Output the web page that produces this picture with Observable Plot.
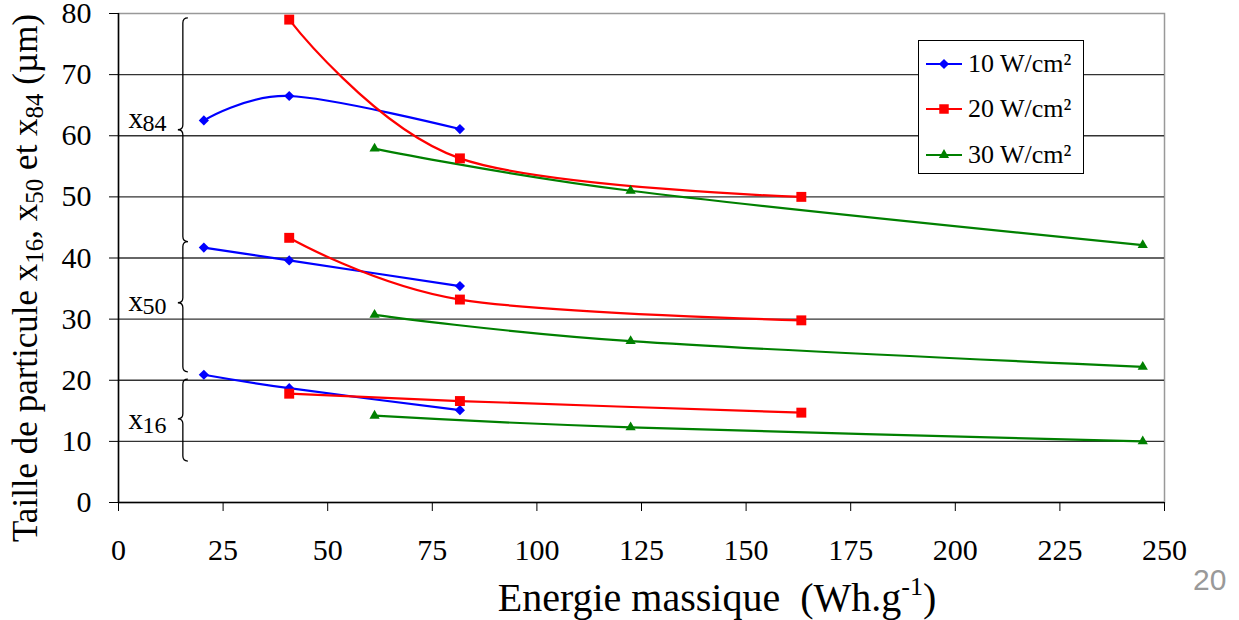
<!DOCTYPE html>
<html><head><meta charset="utf-8">
<script src="https://cdn.jsdelivr.net/npm/d3@7"></script>
<script src="https://cdn.jsdelivr.net/npm/@observablehq/plot@0.6"></script>
<style>
body{margin:0;background:#fff;}
#wrap{position:relative;width:1239px;height:620px;overflow:hidden;}
.legend{position:absolute;left:918px;top:40px;width:164px;height:132px;border:1px solid #000;background:#fff;font-family:"Liberation Serif","Times New Roman",serif;font-size:26px;color:#000;}
.item{position:absolute;left:7px;height:30px;display:flex;align-items:center;white-space:nowrap;}
.item svg{margin-right:6px;}
.pagenum{position:absolute;left:1193px;top:563px;font-family:"Liberation Sans",Arial,sans-serif;font-size:30px;color:#999;}
</style></head><body><div id="wrap"></div>
<script>
// ---- data ----
const series = ["10 W/cm²", "20 W/cm²", "30 W/cm²"];
const colors = ["#0000ff", "#ff0000", "#008000"];
const symbols = ["diamond2", "square", "triangle"];
const grandeurs = ["x84", "x50", "x16"];

const energie10 = [20.4, 40.8, 81.6];
const x84_10 = [62.5, 66.5, 61.1];
const x50_10 = [41.7, 39.6, 35.4];
const x16_10 = [20.9, 18.7, 15.1];

const energie20 = [40.8, 81.6, 163.2];
const x84_20 = [79.0, 56.3, 50.0];
const x50_20 = [43.3, 33.2, 29.8];
const x16_20 = [17.8, 16.6, 14.7];

const energie30 = [61.2, 122.4, 244.8];
const x84_30 = [57.9, 51.0, 42.1];
const x50_30 = [30.7, 26.4, 22.2];
const x16_30 = [14.2, 12.3, 10.0];

const xTicks = [0, 25, 50, 75, 100, 125, 150, 175, 200, 225, 250];
const yTicks = [0, 10, 20, 30, 40, 50, 60, 70, 80];

// brace annotations (data units)
const braceX = 15.5;
const braceTop = [79.2, 42.6, 20.1];
const braceMid = [60.9, 32.6, 13.6];
const braceBottom = [42.6, 21.3, 6.7];
const labelX = 2.4;
const labelY = [62.8, 32.9, 13.5];
const labelSub = ["84", "50", "16"];

// ---- build rows ----
const table = [
  [energie10, [x84_10, x50_10, x16_10]],
  [energie20, [x84_20, x50_20, x16_20]],
  [energie30, [x84_30, x50_30, x16_30]]
];
const rows = [];
table.forEach(([en, vals], si) => {
  vals.forEach((v, gi) => {
    en.forEach((e, i) => rows.push({serie: series[si], g: grandeurs[gi], key: series[si] + grandeurs[gi], e, v: v[i]}));
  });
});
const labels = grandeurs.map((g, i) => ({y: labelY[i], sub: labelSub[i]}));

const serif = "Liberation Serif, Times New Roman, serif";

const chart = Plot.plot({
  width: 1239, height: 620,
  marginTop: 13, marginRight: 75, marginBottom: 118, marginLeft: 118,
  style: {fontFamily: serif, fontSize: "30px", color: "#000", background: "transparent"},
  x: {domain: [0, 250]},
  y: {domain: [0, 80]},
  color: {domain: series, range: colors},
  marks: [
    Plot.frame({stroke: "#999", strokeWidth: 1.5}),
    Plot.ruleY(yTicks.filter(d => d > 0 && d < 80), {stroke: "#333", strokeWidth: 1.3}),
    Plot.ruleY([0], {stroke: "#000", strokeWidth: 1.5}),
    Plot.ruleX([0], {stroke: "#000", strokeWidth: 1.5}),
    Plot.axisX({ticks: xTicks, tickSize: 9, tickPadding: 27, label: null, tickFormat: d => String(d)}),
    Plot.axisY({ticks: yTicks, tickSize: 9, tickPadding: 18, label: null, tickFormat: d => String(d)}),
    Plot.text(labels, {x: labelX, y: "y", text: () => "x", textAnchor: "start", fontSize: 29}),
    Plot.text(labels, {x: labelX, y: "y", text: "sub", textAnchor: "start", fontSize: 24, dx: 14, dy: 5}),
    Plot.line(rows, {x: "e", y: "v", z: "key", stroke: "serie", curve: "cardinal", strokeWidth: 2.2}),
    ...series.map((s, i) => Plot.dot(rows.filter(d => d.serie === s), {
      x: "e", y: "v", symbol: () => symbols[i], fill: colors[i], stroke: "none",
      r: [4.6, 5.6, 3.8][i]
    }))
  ]
});

const wrap = document.getElementById("wrap");
wrap.appendChild(chart);

// braces drawn with the plot's own scales
const sx = chart.scale("x"), sy = chart.scale("y");
const fx = d3.scaleLinear(sx.domain, sx.range);
const fy = d3.scaleLinear(sy.domain, sy.range);
const svg = d3.select(chart);
const w = 5;
braceTop.forEach((t, i) => {
  const x = fx(braceX), y1 = fy(t), ym = fy(braceMid[i]), y2 = fy(braceBottom[i]);
  const p = `M${x + w},${y1} Q${x},${y1} ${x},${y1 + w} L${x},${ym - w} Q${x},${ym} ${x - w},${ym} Q${x},${ym} ${x},${ym + w} L${x},${y2 - w} Q${x},${y2} ${x + w},${y2}`;
  svg.append("path").attr("d", p).attr("fill", "none").attr("stroke", "#000").attr("stroke-width", 1.3);
});

// axis titles
const yl = svg.append("text")
  .attr("transform", "translate(37,278) rotate(-90)")
  .attr("text-anchor", "middle")
  .style("font-family", serif).attr("font-size", 35).attr("fill", "#000");
const parts = [["Taille de particule x", 0], ["16", 1], [", x", 0], ["50", 1], [" et x", 0], ["84", 1], [" (µm)", 0]];
let prevSub = false;
parts.forEach(([t, sub]) => {
  const ts = yl.append("tspan").text(t);
  if (sub) ts.attr("font-size", 25).attr("dy", 6);
  else if (prevSub) ts.attr("dy", -6);
  prevSub = !!sub;
});

const xl = svg.append("text")
  .attr("x", 717).attr("y", 611)
  .attr("text-anchor", "middle")
  .style("font-family", serif).attr("font-size", 40).attr("fill", "#000")
  .attr("xml:space", "preserve");
xl.append("tspan").text("Energie massique  (Wh.g");
xl.append("tspan").attr("font-size", 26).attr("dy", -16).text("-1");
xl.append("tspan").attr("dy", 16).text(")");

// legend
const leg = document.createElement("div");
leg.className = "legend";
const tops = [8, 53, 99];
series.forEach((s, i) => {
  const it = document.createElement("div");
  it.className = "item";
  it.style.top = tops[i] + "px";
  const sym = d3.symbol(i === 0 ? d3.symbolDiamond2 : i === 1 ? d3.symbolSquare : d3.symbolTriangle, [66, 90, 45][i])();
  it.innerHTML = `<svg width="36" height="14"><line x1="0" x2="36" y1="7" y2="7" stroke="${colors[i]}" stroke-width="2.2"/><path transform="translate(18,7)" d="${sym}" fill="${colors[i]}"/></svg><span>${s}</span>`;
  leg.appendChild(it);
});
wrap.appendChild(leg);

const pn = document.createElement("div");
pn.className = "pagenum";
pn.textContent = "20";
wrap.appendChild(pn);
</script>
</body></html>
